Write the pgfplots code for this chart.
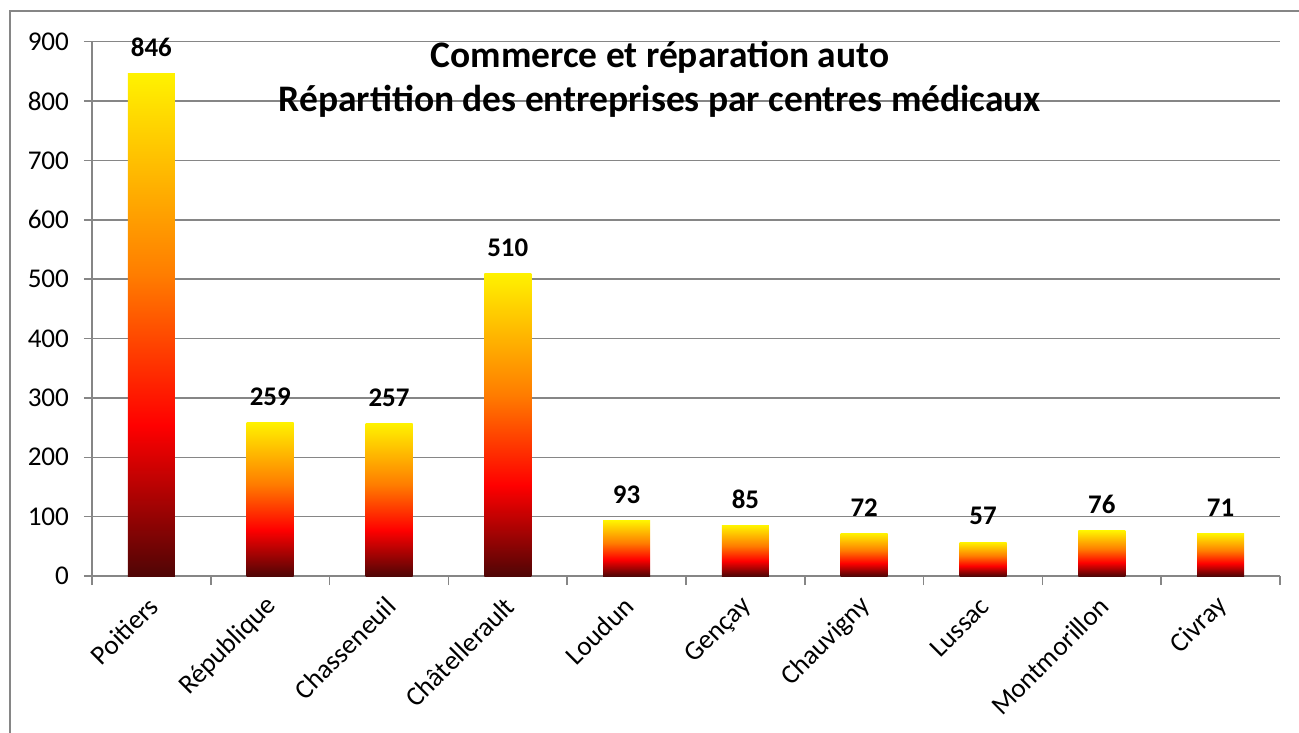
\documentclass[border=0pt]{standalone}
\usepackage{pgfplots}
\pgfplotsset{compat=1.18}
\usepackage{fontspec}
\setmainfont{Carlito}
\definecolor{gridgray}{RGB}{134,134,134}
\definecolor{c0}{RGB}{80,5,5}
\definecolor{c1}{RGB}{255,0,0}
\definecolor{c2}{RGB}{255,125,0}
\definecolor{c3}{RGB}{255,242,0}
\pgfdeclareverticalshading{barshade}{100bp}{color(0bp)=(c0); color(25bp)=(c0); color(40bp)=(c1); color(55bp)=(c2); color(75bp)=(c3); color(100bp)=(c3)}
\begin{document}
\begin{tikzpicture}
\path[use as bounding box] (0bp,0bp) rectangle (649.5bp,-366.5bp);
\draw[gridgray, line width=1bp] (5bp,-400bp) -- (5bp,-5.5bp) -- (700bp,-5.5bp);
\begin{axis}[
  at={(46bp,-288bp)}, anchor=south west,
  scale only axis, width=594bp, height=267.15bp,
  xmin=-0.5, xmax=9.5, ymin=0, ymax=900,
  ytick={0,100,...,900},
  xtick={0,...,9},
  xticklabels={Poitiers,République,Chasseneuil,Châtellerault,Loudun,Gençay,Chauvigny,Lussac,Montmorillon,Civray},
  minor xtick={-0.5,0.5,...,9.5},
  major x tick style={draw=none},
  minor x tick style={gridgray, line width=0.75bp},
  y tick style={gridgray, line width=0.75bp},
  major tick length=4bp, minor tick length=4.5bp,
  tick align=outside,
  ymajorgrids, major grid style={gridgray, line width=0.75bp},
  axis x line*=bottom, axis y line*=left,
  axis line style={gridgray, line width=0.75bp, -},
  tick label style={font=\fontsize{13.6}{15}\selectfont, black},
  /pgf/number format/assume math mode=true,
  yticklabel style={xshift=-4bp},
  xticklabel style={xshift=3.5bp, yshift=-6.5bp, rotate=45, anchor=east},
  nodes near coords,
  nodes near coords style={font=\bfseries\fontsize{13.5}{15}\selectfont, black, yshift=5bp},
]
\addplot[ybar, bar width=23.5bp, bar shift=0pt, draw=none, shading=barshade] coordinates {(0,846)};
\addplot[ybar, bar width=23.5bp, bar shift=0pt, draw=none, shading=barshade] coordinates {(1,259)};
\addplot[ybar, bar width=23.5bp, bar shift=0pt, draw=none, shading=barshade] coordinates {(2,257)};
\addplot[ybar, bar width=23.5bp, bar shift=0pt, draw=none, shading=barshade] coordinates {(3,510)};
\addplot[ybar, bar width=23.5bp, bar shift=0pt, draw=none, shading=barshade] coordinates {(4,93)};
\addplot[ybar, bar width=23.5bp, bar shift=0pt, draw=none, shading=barshade] coordinates {(5,85)};
\addplot[ybar, bar width=23.5bp, bar shift=0pt, draw=none, shading=barshade] coordinates {(6,72)};
\addplot[ybar, bar width=23.5bp, bar shift=0pt, draw=none, shading=barshade] coordinates {(7,57)};
\addplot[ybar, bar width=23.5bp, bar shift=0pt, draw=none, shading=barshade] coordinates {(8,76)};
\addplot[ybar, bar width=23.5bp, bar shift=0pt, draw=none, shading=barshade] coordinates {(9,71)};
\end{axis}
\node[anchor=base, font=\bfseries\fontsize{18.8}{22}\selectfont] at (330bp,-33.7bp) {Commerce et réparation auto};
\node[anchor=base, font=\bfseries\fontsize{18.8}{22}\selectfont] at (330bp,-55.5bp) {Répartition des entreprises par centres médicaux};
\end{tikzpicture}
\end{document}
